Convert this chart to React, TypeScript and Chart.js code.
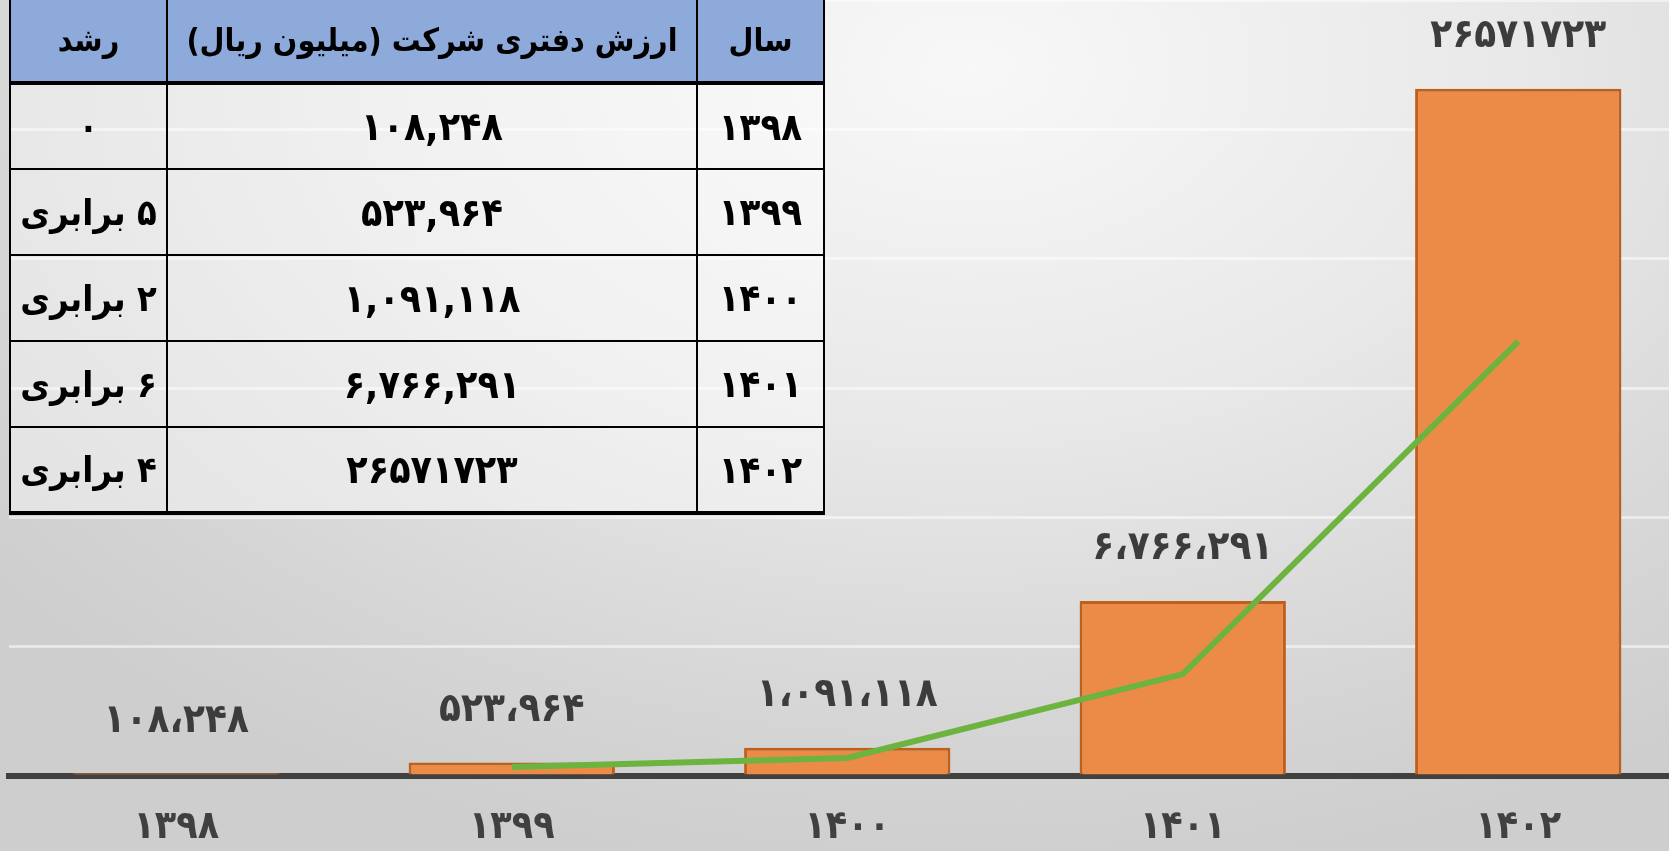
import React, { useEffect, useRef } from "react";
import { Chart, registerables } from "chart.js";

Chart.register(...registerables);

// ---- data ----
const years = ["۱۳۹۸", "۱۳۹۹", "۱۴۰۰", "۱۴۰۱", "۱۴۰۲"];
const bookValues = [108248, 523964, 1091118, 6766291, 26571723];
const trendValues = [null, 350000, 700000, 3940000, 16800000];
const barLabels = ["۱۰۸،۲۴۸", "۵۲۳،۹۶۴", "۱،۰۹۱،۱۱۸", "۶،۷۶۶،۲۹۱", "۲۶۵۷۱۷۲۳"];
const tableValueLabels = ["۱۰۸,۲۴۸", "۵۲۳,۹۶۴", "۱,۰۹۱,۱۱۸", "۶,۷۶۶,۲۹۱", "۲۶۵۷۱۷۲۳"];
const growthLabels = ["۰", "۵ برابری", "۲ برابری", "۶ برابری", "۴ برابری"];
const tableHeaders = ["سال", "ارزش دفتری شرکت (میلیون ریال)", "رشد"];
const yMax = 30000000;
const yStep = 5000000;

const FONT = '"DejaVu Sans Condensed", "DejaVu Sans", sans-serif';

const barLabelPlugin = {
  id: "barLabels",
  afterDatasetsDraw(chart: any) {
    const meta = chart.getDatasetMeta(0);
    const ctx = chart.ctx;
    ctx.save();
    ctx.font = `bold 40px ${FONT}`;
    ctx.fillStyle = "#3c3c3c";
    ctx.textAlign = "center";
    ctx.textBaseline = "middle";
    meta.data.forEach((el: any, i: number) => {
      ctx.fillText(barLabels[i], el.x, el.y - 52);
    });
    ctx.restore();
  },
};

function BarChart() {
  const ref = useRef<HTMLCanvasElement>(null);
  useEffect(() => {
    if (!ref.current) return;
    const chart = new Chart(ref.current, {
      type: "bar",
      data: {
        labels: years,
        datasets: [
          {
            type: "bar",
            data: bookValues,
            backgroundColor: "#ec8b48",
            borderColor: "#bf5f1c",
            borderWidth: 3,
            categoryPercentage: 1,
            barPercentage: 0.615,
            order: 1,
          } as any,
          {
            type: "line",
            data: trendValues,
            borderColor: "#6db33f",
            borderWidth: 6,
            pointRadius: 0,
            tension: 0,
            spanGaps: false,
            order: 0,
          } as any,
        ],
      },
      options: {
        responsive: false,
        maintainAspectRatio: false,
        animation: false,
        layout: { padding: { left: 8.5, right: 14, top: 0, bottom: 0 } },
        plugins: { legend: { display: false }, tooltip: { enabled: false } },
        scales: {
          x: {
            grid: { display: false, drawTicks: false },
            border: { display: true, color: "#404040", width: 6 },
            ticks: {
              padding: 28,
              color: "#404040",
              font: { family: FONT, size: 39, weight: "bold" },
            },
            afterFit(scale: any) {
              scale.height = 75;
            },
          },
          y: {
            min: 0,
            max: yMax,
            ticks: { display: false, stepSize: yStep },
            grid: { color: "rgba(255,255,255,0.5)", lineWidth: 3, drawTicks: false },
            border: { display: false },
            afterFit(scale: any) {
              scale.width = 0;
            },
          },
        },
      },
      plugins: [barLabelPlugin],
    });
    return () => chart.destroy();
  }, []);
  return (
    <canvas
      ref={ref}
      width={1700}
      height={851}
      style={{ position: "absolute", left: 0, top: 0, width: 1700, height: 851 }}
    />
  );
}

export default function App() {
  const cellBase: React.CSSProperties = {
    border: "2.5px solid #000",
    textAlign: "center",
    verticalAlign: "middle",
    fontWeight: "bold",
    padding: 0,
    color: "#000",
    whiteSpace: "nowrap",
    overflow: "hidden",
  };
  const bodyBg = "rgba(255,255,255,0.4)";
  return (
    <div
      style={{
        position: "fixed",
        left: 0,
        top: 0,
        width: 1669,
        height: 851,
        overflow: "hidden",
        background:
          "radial-gradient(ellipse 75% 95% at 58% 8%, #f8f8f8 0%, #e8e8e8 45%, #d6d6d6 80%, #cecece 100%)",
        fontFamily: FONT,
      }}
    >
      <BarChart />
      <table
        dir="rtl"
        style={{
          position: "absolute",
          left: 9,
          top: -3,
          width: 814,
          borderCollapse: "collapse",
          tableLayout: "fixed",
          zIndex: 2,
          borderBottom: "4px solid #000",
        }}
      >
        <colgroup>
          <col style={{ width: 127 }} />
          <col style={{ width: 530 }} />
          <col style={{ width: 157 }} />
        </colgroup>
        <thead>
          <tr style={{ height: 85 }}>
            {tableHeaders.map((h, i) => (
              <th
                key={i}
                style={{
                  ...cellBase,
                  background: "#8eaadb",
                  borderBottom: "4.5px solid #000",
                  fontSize: 32,
                }}
              >
                {h}
              </th>
            ))}
          </tr>
        </thead>
        <tbody>
          {years.map((y, i) => (
            <tr key={i} style={{ height: 86 }}>
              <td style={{ ...cellBase, fontSize: 38, background: bodyBg }}>{y}</td>
              <td style={{ ...cellBase, fontSize: 39, background: bodyBg }}>{tableValueLabels[i]}</td>
              <td style={{ ...cellBase, fontSize: 36, background: bodyBg }}>{growthLabels[i]}</td>
            </tr>
          ))}
        </tbody>
      </table>
    </div>
  );
}
